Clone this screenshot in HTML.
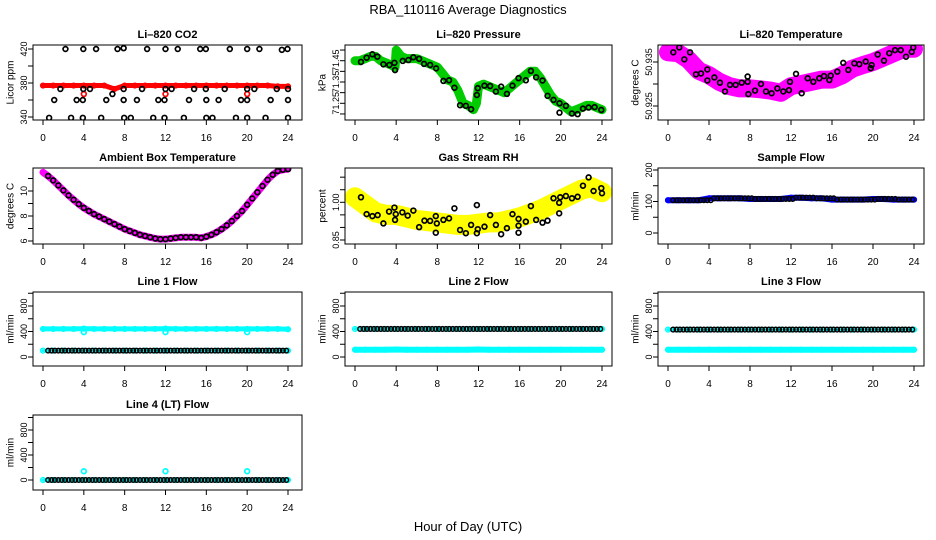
<!DOCTYPE html>
<html><head><meta charset="utf-8"><style>
html,body{margin:0;padding:0;background:#fff;}
svg{display:block;font-family:"Liberation Sans",Arial,sans-serif;}
</style></head><body>
<svg id="chart" width="936" height="540" viewBox="0 0 936 540" xmlns="http://www.w3.org/2000/svg">
<text x="468" y="14" text-anchor="middle" font-size="13">RBA_110116  Average Diagnostics</text>
<text x="468" y="531" text-anchor="middle" font-size="13">Hour of Day (UTC)</text>
</svg>
<script>
// ---------- DATA ----------
const hours = [0,1,2,3,4,5,6,7,8,9,10,11,12,13,14,15,16,17,18,19,20,21,22,23,24];
const xTicks = [0,4,8,12,16,20,24];

const co2Red = [377,377,377,377,377,377,377,373,377,377,377,377,377,377,377,377,377,377,377,377,377,377,377,376,376];
const co2OutT = [4,12,20];
const co2OutV = [367,367,367];
const co2BlackT = [2.2,3.95,5.2,7.3,7.9,10.2,12.0,13.2,15.4,15.95,18.3,20.0,21.2,23.4,23.95,
  1.7,3.95,4.6,6.8,7.9,9.7,12,12.6,14.8,15.95,17.8,20,20.7,22.9,24,
  1.1,3.3,3.9,6.2,7.9,9.2,11.3,11.9,14.3,16.0,17.2,19.4,20,22.3,24,
  0.6,2.75,3.9,5.7,7.95,8.6,10.8,11.9,13.8,16,16.6,18.9,20,21.8,24];
const co2BlackV = [420,420,420,420,421,420,420,420,420,420,420,420,420,419,420,
  373,373,373,367,373,373,373,373,373,373,373,373,373,373,373,
  360,360,360,360,360,360,360,360,360,360,360,360,360,360,360,
  339,339,339,339,339,339,339,339,339,339,339,339,339,339,339];

const presT = [0,0.5,1,1.5,2,2.5,3,3.5,3.9,4.0,4.5,5,5.5,6,6.5,7,7.5,8,8.5,9,9.5,10,10.5,11,11.5,11.8,12,12.5,13,13.5,14,14.5,15,15.5,16,16.5,17,17.5,18,18.5,19,19.5,20,20.5,21,21.5,22,22.5,23,23.5,24];
const presV = [71.45,71.45,71.46,71.47,71.47,71.45,71.44,71.43,71.42,71.50,71.47,71.46,71.46,71.46,71.45,71.44,71.43,71.42,71.39,71.36,71.35,71.31,71.25,71.24,71.22,71.25,71.33,71.34,71.33,71.32,71.31,71.30,71.32,71.34,71.36,71.38,71.40,71.40,71.37,71.33,71.29,71.26,71.25,71.23,71.21,71.22,71.23,71.24,71.24,71.23,71.22];
const presBlackT = [0.58,1.13,1.69,2.17,2.76,3.34,3.83,3.89,4.64,5.19,5.67,6.23,6.71,7.3,7.88,8.59,9.14,9.66,10.21,10.77,11.28,11.84,11.93,12.58,13.13,13.69,14.2,14.76,15.3,15.89,16.6,17.09,17.6,18.22,18.71,19.29,19.87,19.87,20.49,21.08,21.63,22.15,22.7,23.28,23.93];
const presBlackV = [71.444,71.464,71.48,71.469,71.433,71.43,71.44,71.406,71.449,71.453,71.466,71.459,71.435,71.43,71.414,71.355,71.358,71.323,71.241,71.238,71.222,71.289,71.321,71.333,71.331,71.305,71.328,71.294,71.333,71.368,71.358,71.402,71.372,71.357,71.285,71.266,71.25,71.206,71.238,71.202,71.199,71.225,71.23,71.232,71.219];

const tempV = [50.9372,50.937,50.9355,50.933,50.932,50.9305,50.9295,50.929,50.929,50.9288,50.9285,50.928,50.9295,50.930,50.9305,50.931,50.931,50.932,50.9335,50.9343,50.935,50.936,50.937,50.938,50.938];
const tempBlackT = [0.52,1.1,1.59,2.15,2.73,3.22,3.84,3.84,4.52,5.07,5.56,6.05,6.6,7.19,7.77,7.77,7.84,8.49,9.07,9.56,10.11,10.67,11.25,11.8,11.9,12.49,13.04,13.63,14.18,14.76,15.22,15.74,15.87,16.52,17.1,17.59,18.18,18.66,19.29,19.78,19.87,20.46,21.07,21.59,22.15,22.7,23.22,23.78,23.93];
const tempBlackV = [50.9372,50.9383,50.9356,50.9372,50.9322,50.9324,50.9333,50.9308,50.9315,50.9303,50.9283,50.9298,50.9298,50.9303,50.9305,50.9317,50.9277,50.9285,50.93,50.9283,50.9279,50.929,50.9283,50.9286,50.9305,50.9323,50.9279,50.9313,50.9305,50.9313,50.9318,50.9309,50.9319,50.9328,50.9348,50.9332,50.9347,50.9345,50.9351,50.9336,50.9343,50.9367,50.9353,50.937,50.9377,50.9377,50.9362,50.9373,50.9383];

const ambV = [11.5,11.2,10.85,10.45,10.05,9.65,9.3,8.95,8.65,8.4,8.15,7.95,7.75,7.55,7.35,7.15,6.95,6.8,6.65,6.5,6.4,6.3,6.2,6.15,6.15,6.2,6.25,6.3,6.3,6.3,6.3,6.25,6.35,6.5,6.7,6.95,7.25,7.6,8.0,8.4,8.9,9.4,9.9,10.4,10.9,11.3,11.6,11.7,11.75];

const rhV = [1.02,0.99,0.96,0.95,0.95,0.94,0.93,0.925,0.92,0.915,0.91,0.91,0.915,0.92,0.92,0.93,0.94,0.955,0.97,0.99,1.01,1.03,1.05,1.06,1.04];
const rhBlackT = [0.58,1.13,1.69,2.2,2.76,3.31,3.83,3.89,3.96,4.6,5.12,5.67,6.23,6.75,7.3,7.85,7.95,7.85,8.59,9.14,9.66,10.21,10.77,11.28,11.84,11.93,11.84,12.58,13.13,13.69,14.2,14.76,15.3,15.89,15.89,15.89,16.6,17.09,17.6,18.22,18.71,19.29,19.84,19.84,19.94,20.49,21.08,21.63,22.15,22.7,23.18,23.93,24.0];
const rhBlackV = [1.020,0.953,0.945,0.949,0.916,0.963,0.979,0.930,0.953,0.960,0.947,0.967,0.901,0.927,0.926,0.945,0.916,0.879,0.930,0.936,0.976,0.890,0.877,0.910,0.989,0.893,0.877,0.903,0.949,0.910,0.873,0.897,0.953,0.907,0.934,0.879,0.923,0.985,0.930,0.919,0.927,1.016,0.956,0.998,1.020,1.025,1.016,1.022,1.066,1.099,1.045,1.056,1.036];

const sampleV = [104,104,104,104,110,110,110,110,108,108,108,108,112,112,110,110,106,106,106,106,108,108,106,106,106];

const line1Hi = [440,440,440,440,445,440,440,440,440,440,440,440,445,440,440,440,440,440,440,440,440,440,440,440,435];
const line1Lo = [100,100,100,100,100,100,100,100,100,100,100,100,100,100,100,100,100,100,100,100,100,100,100,100,100];
const line1OutT = [4,12,20];
const line1OutV = [390,390,390];
const line2Hi = [440,440,440,440,440,440,440,440,440,440,440,440,440,440,440,440,440,440,440,440,440,440,440,440,440];
const line2Lo = [115,115,115,115,118,115,115,115,115,115,115,115,118,115,115,115,115,115,115,115,115,115,115,115,115];
const line3Hi = [430,430,430,430,430,430,430,430,430,430,430,430,430,430,430,430,430,430,430,430,430,430,430,430,430];
const line3Lo = [115,115,115,115,115,115,115,115,115,115,115,115,115,115,115,115,115,115,115,115,115,115,115,115,115];
const line4V = [0,0,0,0,0,0,0,0,0,0,0,0,0,0,0,0,0,0,0,0,0,0,0,0,0];
const line4OutT = [4,12,20];
const line4OutV = [140,140,140];

// ---------- RENDER ----------
const NS = "http://www.w3.org/2000/svg";
const svg = document.getElementById('chart');
const cols = [{L:33,R:302,a:43,b:288},{L:345,R:612,a:355,b:602},{L:658,R:924,a:668,b:914}];
const rows = [{T:45,B:120},{T:168,B:244},{T:292,B:366},{T:415,B:490}];
let clipN = 0;
function mk(tag, attrs, parent){
  const e = document.createElementNS(NS, tag);
  for (const k in attrs) e.setAttribute(k, attrs[k]);
  (parent||svg).appendChild(e);
  return e;
}
function panel(ci, ri, name, title, v1, y1, v2, y2, ticks, labels, ylab){
  const c = cols[ci], r = rows[ri];
  const g = mk('g', {});
  
  
  const x = t => c.a + (c.b - c.a) * t / 24;
  const y = v => y1 + (v - v1) * (y2 - y1) / (v2 - v1);
  const id = 'clip' + (clipN++);
  const cp = mk('clipPath', {id:id}, g);
  mk('rect', {x:c.L, y:r.T, width:c.R-c.L, height:r.B-r.T}, cp);
  const plot = mk('g', {'clip-path':'url(#'+id+')'}, g);
  
  
  const box = mk('rect', {x:c.L, y:r.T, width:c.R-c.L, height:r.B-r.T, fill:'none', stroke:'#000', 'stroke-width':1}, g);
  
  
  const tt = mk('text', {x:(c.L+c.R)/2, y:r.T-7, 'text-anchor':'middle', 'font-size':11, 'font-weight':'bold'}, g);
  tt.textContent = title;
  
  
  const xa = mk('g', {stroke:'#000','stroke-width':1}, g);
  
  
  mk('line', {x1:x(0), x2:x(24), y1:r.B, y2:r.B}, xa);
  xTicks.forEach(t => {
    mk('line', {x1:x(t), x2:x(t), y1:r.B, y2:r.B+5}, xa);
    const lb = mk('text', {x:x(t), y:r.B+21, 'text-anchor':'middle', 'font-size':10, stroke:'none'}, xa);
    lb.textContent = t;
    
    
  });
  const ya = mk('g', {stroke:'#000','stroke-width':1}, g);
  
  
  mk('line', {x1:c.L, x2:c.L, y1:y(ticks[0]), y2:y(ticks[ticks.length-1])}, ya);
  ticks.forEach(v => mk('line', {x1:c.L-5, x2:c.L, y1:y(v), y2:y(v)}, ya));
  labels.forEach(v => {
    const yy = y(parseFloat(v));
    const lb = mk('text', {x:0, y:0, transform:'translate('+(c.L-9)+','+yy+') rotate(-90)', 'text-anchor':'middle', 'font-size':9, stroke:'none', 'dominant-baseline':'central'}, ya);
    lb.textContent = v;
    
    
  });
  const yl = mk('text', {x:0, y:0, transform:'translate('+(c.L-22)+','+((r.T+r.B)/2)+') rotate(-90)', 'text-anchor':'middle', 'font-size':10, 'dominant-baseline':'central'}, g);
  yl.textContent = ylab;
  
  
  return {plot, x, y};
}
function band(p, ts, vs, color, w, name){
  const pts = ts.map((t,i) => p.x(t).toFixed(1) + ',' + p.y(vs[i]).toFixed(1)).join(' ');
  const pl = mk('polyline', {points:pts, fill:'none', stroke:color, 'stroke-width':w, 'stroke-linejoin':'round', 'stroke-linecap':'round'}, p.plot);
  
  
  ts.forEach((t,i) => {
    const c = mk('circle', {cx:p.x(t), cy:p.y(vs[i]), r:2.4, fill:'none', stroke:color, 'stroke-width':1.4}, p.plot);
    
    
  });
}
function pts(p, ts, vs, color, name){
  ts.forEach((t,i) => {
    const c = mk('circle', {cx:p.x(t), cy:p.y(vs[i]), r:2.4, fill:'none', stroke:color, 'stroke-width':1.7}, p.plot);
    
    
  });
}
function chain(p, vs, color, name){
  hours.forEach((h,i) => {
    [0, 1/3, 2/3].forEach(d => {
      const t = h + d + 0.5;
      if (t > 24) return;
      const c = mk('circle', {cx:p.x(t), cy:p.y(vs[i]), r:2.3, fill:'none', stroke:color, 'stroke-width':1.5}, p.plot);
      
      
    });
  });
}
const halfT = ambV.map((v,i) => i*0.5);

let p = panel(0,0,'co2','Li\u2013820 CO2',340,117,420,49,[340,360,380,400,420],['340','380','420'],'Licor ppm');
band(p, hours, co2Red, '#ff0000', 5, 'co2-red-series');
pts(p, co2OutT, co2OutV, '#ff0000', 'co2-red-outlier');
pts(p, co2BlackT, co2BlackV, '#000', 'co2-black-point');

p = panel(1,0,'pressure','Li\u2013820 Pressure',71.25,103.3,71.45,60.7,[71.20,71.25,71.30,71.35,71.40,71.45,71.50],['71.25','71.35','71.45'],'kPa');
band(p, presT, presV, '#00cc00', 9, 'pressure-green-series');
pts(p, presBlackT, presBlackV, '#000', 'pressure-black-point');

p = panel(2,0,'li820-temp','Li\u2013820 Temperature',50.925,106,50.935,62,[50.925,50.930,50.935],['50.925','50.935'],'degrees C');
band(p, hours, tempV, '#ff00ff', 18, 'temp-magenta-series');
pts(p, tempBlackT, tempBlackV, '#000', 'temp-black-point');

p = panel(0,1,'ambient-temp','Ambient Box Temperature',6,241,10,191,[6,7,8,9,10,11],['6','8','10'],'degrees C');
band(p, halfT, ambV, '#ff00ff', 7, 'ambient-magenta-series');
pts(p, halfT.slice(1), ambV.slice(1), '#000', 'ambient-black-point');

p = panel(1,1,'rh','Gas Stream RH',0.85,240,1.00,202.3,[0.85,0.90,0.95,1.00,1.05,1.10],['0.85','1.00'],'percent');
band(p, hours, rhV, '#ffff00', 20, 'rh-yellow-series');
pts(p, rhBlackT, rhBlackV, '#000', 'rh-black-point');

p = panel(2,1,'sample-flow','Sample Flow',0,233,200,170,[0,50,100,150,200],['0','100','200'],'ml/min');
band(p, hours, sampleV, '#0000ff', 6, 'sample-blue-series');
chain(p, sampleV, '#000', 'sample-black-point');

const fT = [0,200,400,600,800,1000], fL = ['0','400','800'];
p = panel(0,2,'line1-flow','Line 1 Flow',0,357,800,306,fT,fL,'ml/min');
band(p, hours, line1Hi, '#00ffff', 5, 'line1-cyan-series');
band(p, hours, line1Lo, '#00ffff', 3, 'line1-cyan-low-series');
pts(p, line1OutT, line1OutV, '#00ffff', 'line1-cyan-outlier');
chain(p, line1Lo, '#000', 'line1-black-point');

p = panel(1,2,'line2-flow','Line 2 Flow',0,357,800,306,fT,fL,'ml/min');
band(p, hours, line2Lo, '#00ffff', 6, 'line2-cyan-series');
band(p, hours, line2Hi, '#00ffff', 3, 'line2-cyan-high-series');
chain(p, line2Hi, '#000', 'line2-black-point');

p = panel(2,2,'line3-flow','Line 3 Flow',0,357,800,306,fT,fL,'ml/min');
band(p, hours, line3Lo, '#00ffff', 6, 'line3-cyan-series');
band(p, hours, line3Hi, '#00ffff', 3, 'line3-cyan-high-series');
chain(p, line3Hi, '#000', 'line3-black-point');

p = panel(0,3,'line4-flow','Line 4 (LT) Flow',0,480,800,430,fT,fL,'ml/min');
band(p, hours, line4V, '#00ffff', 3, 'line4-cyan-series');
pts(p, line4OutT, line4OutV, '#00ffff', 'line4-cyan-outlier');
chain(p, line4V, '#000', 'line4-black-point');
</script>
</body></html>
